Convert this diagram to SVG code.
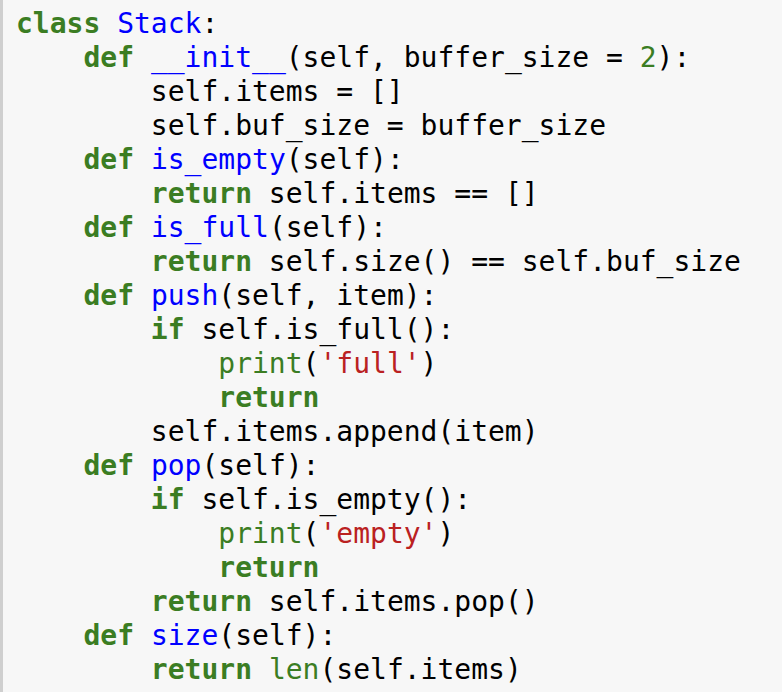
<svg xmlns="http://www.w3.org/2000/svg" width="782" height="692" viewBox="0 0 782 692">
<style>
text{font-family:"DejaVu Sans Mono","Liberation Mono",monospace;font-size:28px;fill:#000;white-space:pre}
.k{fill:#3b7d23;font-weight:bold}
.b{fill:#3b7d23}
.n{fill:#0000ff}
.s{fill:#ba2121}
</style>
<rect width="782" height="692" fill="#f7f7f7"/>
<rect x="0" y="0" width="3" height="692" fill="#cfcfcf"/>
<g id="code" xml:space="preserve">
<text x="16" y="33"><tspan class="k">class</tspan> <tspan class="n">Stack</tspan>:</text>
<text x="16" y="67">    <tspan class="k">def</tspan> <tspan class="n">__init__</tspan>(self, buffer_size = <tspan class="b">2</tspan>):</text>
<text x="16" y="101">        self.items = []</text>
<text x="16" y="135">        self.buf_size = buffer_size</text>
<text x="16" y="169">    <tspan class="k">def</tspan> <tspan class="n">is_empty</tspan>(self):</text>
<text x="16" y="203">        <tspan class="k">return</tspan> self.items == []</text>
<text x="16" y="237">    <tspan class="k">def</tspan> <tspan class="n">is_full</tspan>(self):</text>
<text x="16" y="271">        <tspan class="k">return</tspan> self.size() == self.buf_size</text>
<text x="16" y="305">    <tspan class="k">def</tspan> <tspan class="n">push</tspan>(self, item):</text>
<text x="16" y="339">        <tspan class="k">if</tspan> self.is_full():</text>
<text x="16" y="373">            <tspan class="b">print</tspan>(<tspan class="s">'full'</tspan>)</text>
<text x="16" y="407">            <tspan class="k">return</tspan></text>
<text x="16" y="441">        self.items.append(item)</text>
<text x="16" y="475">    <tspan class="k">def</tspan> <tspan class="n">pop</tspan>(self):</text>
<text x="16" y="509">        <tspan class="k">if</tspan> self.is_empty():</text>
<text x="16" y="543">            <tspan class="b">print</tspan>(<tspan class="s">'empty'</tspan>)</text>
<text x="16" y="577">            <tspan class="k">return</tspan></text>
<text x="16" y="611">        <tspan class="k">return</tspan> self.items.pop()</text>
<text x="16" y="645">    <tspan class="k">def</tspan> <tspan class="n">size</tspan>(self):</text>
<text x="16" y="679">        <tspan class="k">return</tspan> <tspan class="b">len</tspan>(self.items)</text>
</g>
</svg>
